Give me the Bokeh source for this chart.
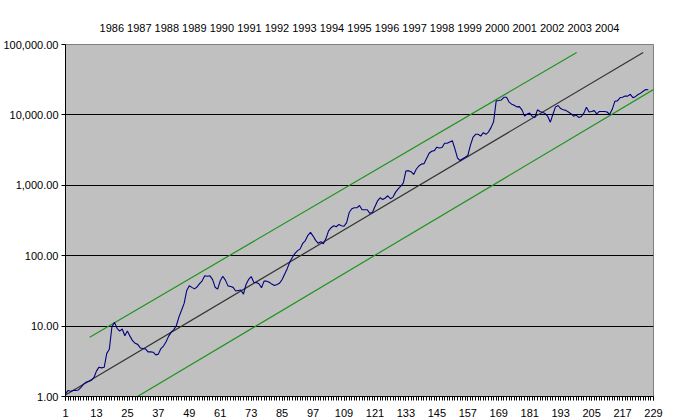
import numpy as np

from bokeh.embed import file_html
from bokeh.models import FixedTicker, NumeralTickFormatter, Range1d, Title
from bokeh.plotting import figure
from bokeh.resources import INLINE

# monthly index values (category 1 .. 227)
index_values = [
    1.09, 1.22, 1.19, 1.22, 1.22, 1.24, 1.35, 1.50, 1.60, 1.63,
    1.70, 1.85, 2.29, 2.61, 2.55, 2.60, 4.1, 4.7, 9.8, 11.3,
    9.3, 8.5, 9.1, 7.3, 8.5, 7.2, 6.2, 5.7, 5.5, 4.9,
    4.8, 4.75, 4.3, 4.3, 4.26, 3.9, 4.0, 4.8, 5.2, 6.0,
    7.2, 8.2, 8.9, 10.2, 13.5, 16.8, 21, 32, 37.5, 35.5,
    33.8, 36, 40, 44, 52, 51, 51.8, 46, 35.7, 33.5,
    44, 51, 45, 37.3, 36.5, 35.5, 31.5, 32, 32.5, 28.5,
    39, 46, 50.5, 42, 41.5, 40, 35, 43.5, 43.5, 42,
    39.5, 37.7, 39, 40.7, 46, 55, 66, 82, 95, 108,
    118, 125, 150, 164, 195, 214, 190, 165, 150, 158,
    148, 175, 225, 250, 266, 258, 278, 266, 262, 295,
    410, 464, 479, 479, 517, 450, 450, 450, 400, 412,
    500, 600, 664, 629, 660, 710, 644, 680, 800, 890,
    970, 1080, 1600, 1615, 1560, 1424, 1690, 1880, 2000, 2030,
    2400, 2850, 3040, 3110, 3480, 3380, 3450, 3950, 3950, 4120,
    4290, 3300, 2430, 2250, 2377, 2500, 2650, 3700, 4800, 5300,
    5300, 5000, 5600, 5300, 5700, 6600, 8000, 15800, 16000, 16300,
    17800, 17800, 15200, 14200, 13700, 13000, 13100, 11800, 9600, 10300,
    10600, 9500, 9200, 11800, 11200, 10800, 10450, 9500, 7880, 10200,
    13000, 13600, 12300, 11810, 11600, 11000, 10400, 9600, 9950, 9200,
    9500, 10600, 12880, 11000, 11200, 11500, 10360, 11200, 11200, 11200,
    11000, 10200, 12000, 15600, 15800, 17500, 17800, 18600, 18500, 19600,
    17600, 18150, 19500, 20350, 21700, 22950, 22800,
]
months = list(range(1, len(index_values) + 1))

# trend line and the two channel lines (end points)
trend_x = [1, 225]
trend_y = [1.05, 77000]
upper_x = [10.4, 199.2]
upper_y = [6.96, 77000]
lower_x = [28.9, 231.7]
lower_y = [1.0, 26180]

year_labels = [str(y) for y in range(1986, 2005)]
x_ticks = list(range(1, 230, 12))
y_ticks = [1, 10, 100, 1000, 10000, 100000]

FONT = "Liberation Sans"

p = figure(width=692, height=419, y_axis_type="log",
           x_range=Range1d(1, 229), y_range=Range1d(1, 100000),
           output_backend="svg", toolbar_location=None,
           min_border_left=64, min_border_right=39,
           min_border_top=44, min_border_bottom=0)

# main title left empty, the year row is added as its own title
p.title = Title(text="", standoff=0)
p.add_layout(Title(text=" ".join(year_labels), align="center",
                   text_font=FONT, text_font_size="11px",
                   text_font_style="normal", text_color="black",
                   standoff=22), "above")

p.background_fill_color = "#C0C0C0"
p.border_fill_color = "white"
p.outline_line_color = "#808080"

p.xaxis.ticker = FixedTicker(ticks=x_ticks, minor_ticks=months + [228, 229])
p.xaxis.major_tick_out = 4
p.xaxis.major_tick_in = 0
p.xaxis.minor_tick_out = 4
p.xaxis.minor_tick_in = 0
p.xaxis.major_label_standoff = 8

p.yaxis.ticker = FixedTicker(ticks=y_ticks, minor_ticks=[])
p.yaxis.formatter = NumeralTickFormatter(format="0,0.00")
p.yaxis.major_tick_out = 4
p.yaxis.major_tick_in = 0
p.yaxis.major_label_standoff = 3

for ax in (p.xaxis, p.yaxis):
    ax.axis_line_color = "black"
    ax.major_tick_line_color = "black"
    ax.minor_tick_line_color = "black"
    ax.major_label_text_font = FONT
    ax.major_label_text_font_size = "11px"
    ax.major_label_text_color = "black"

p.xgrid.visible = False
p.ygrid.ticker = FixedTicker(ticks=[10, 100, 1000, 10000])
p.ygrid.grid_line_color = "black"
p.ygrid.grid_line_width = 1

p.line(lower_x, lower_y, line_color="#1f931f", line_width=1.2)
p.line(upper_x, upper_y, line_color="#1f931f", line_width=1.2)
p.line(trend_x, trend_y, line_color="#333333", line_width=1.2)
p.line(months, index_values, line_color="#000080", line_width=1.1)

open("out.html", "w").write(file_html(p, INLINE))
